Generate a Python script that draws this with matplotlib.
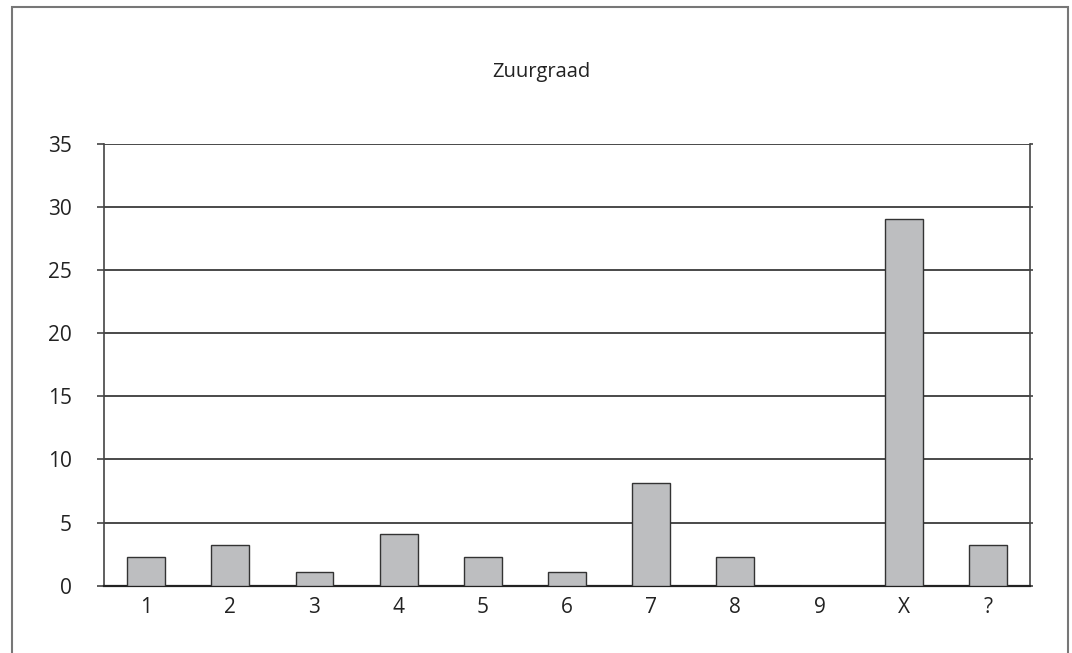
import matplotlib.pyplot as plt
import matplotlib.patches as mpatches
import numpy as np

plt.rcParams['font.family'] = ['Open Sans', 'DejaVu Sans']

# Zuurgraad categories and values
categories = ['1', '2', '3', '4', '5', '6', '7', '8', '9', 'X', '?']
values = [2.25, 3.2, 1.05, 4.1, 2.25, 1.05, 8.1, 2.25, 0.0, 29.0, 3.2]
y_ticks = [0, 5, 10, 15, 20, 25, 30, 35]

fig = plt.figure(figsize=(10.72, 6.53), dpi=100)
ax = fig.add_axes([104 / 1072, 1 - 585.7 / 653, (1030 - 104) / 1072, (585.7 - 143.5) / 653])

x = np.arange(len(categories))
ax.bar(x, values, width=0.45, color='#bdbec0', edgecolor='#333333', linewidth=1.0, zorder=3)

ax.set_xlim(-0.5, len(categories) - 0.5)
ax.set_ylim(0, 35)
ax.set_yticks(y_ticks)
ax.set_xticks(x)
ax.set_xticklabels(categories)

ax.yaxis.grid(True, color='#2a2a2a', linewidth=1.2, zorder=1)
ax.set_axisbelow(True)

ax.spines['top'].set_visible(False)
ax.spines['left'].set_color('#444444')
ax.spines['right'].set_color('#444444')
ax.spines['bottom'].set_color('#222222')
ax.spines['bottom'].set_linewidth(1.6)
ax.spines['left'].set_linewidth(1.2)
ax.spines['right'].set_linewidth(1.2)

ax.tick_params(axis='y', which='major', direction='out', length=5, width=1.2, color='#444444',
               pad=18, labelsize=15, labelcolor='#222222', labelright=False)
ax.tick_params(axis='y', which='major', right=True)
ax.yaxis.set_tick_params(which='major', length=5)
for t in ax.yaxis.get_major_ticks():
    t.tick2line.set_markersize(2.5)
ax.tick_params(axis='x', length=0, pad=8, labelsize=15, labelcolor='#222222')

fig.text(541 / 1072, 1 - 72 / 653, 'Zuurgraad', ha='center', va='center',
         fontsize=14.5, color='#222222')

# outer frame of the chart area (open at the bottom edge of the image)
frame = mpatches.Rectangle((11.5 / 1072, -0.05), (1067.5 - 11.5) / 1072, 1.05 - 7.5 / 653,
                           transform=fig.transFigure, fill=False,
                           edgecolor='#777777', linewidth=1.5)
fig.patches.append(frame)

fig.savefig('out.png', dpi=100)
